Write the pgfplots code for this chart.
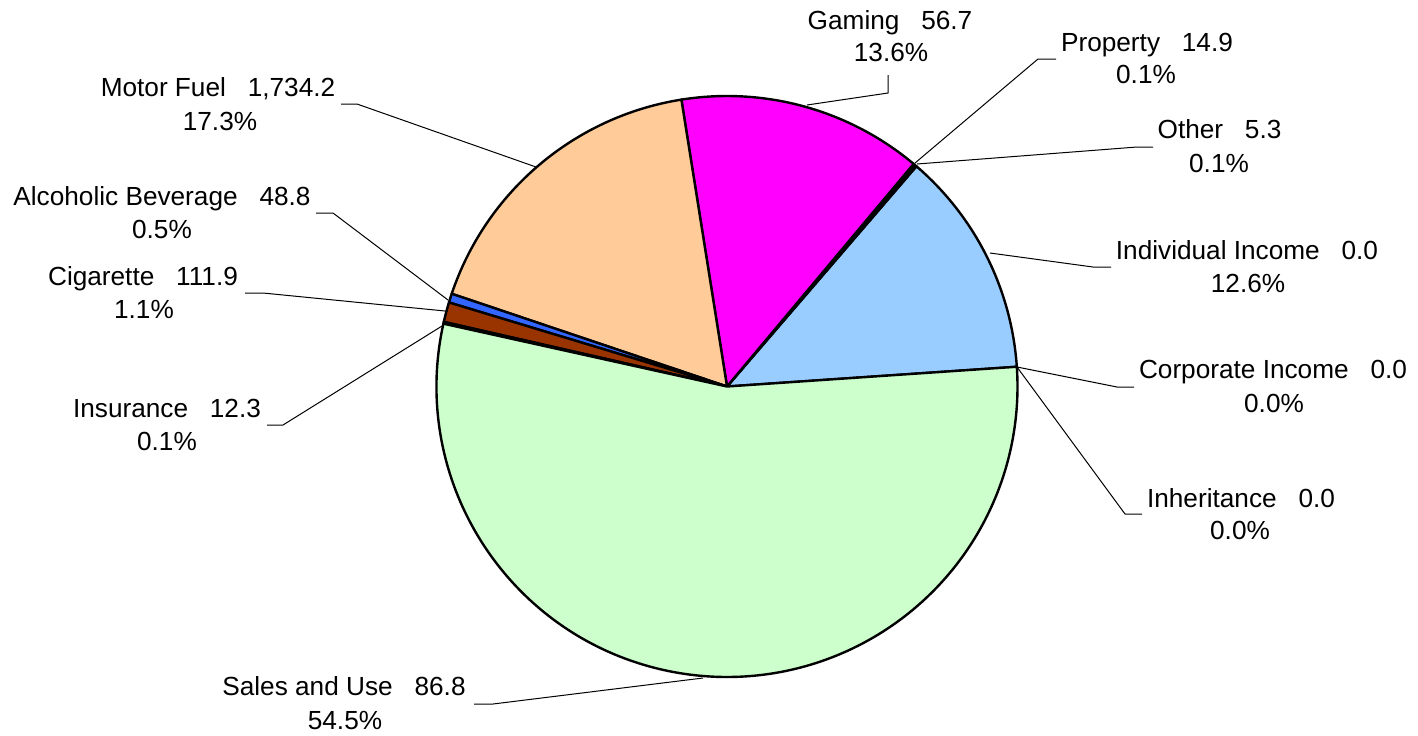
\documentclass[border=0pt]{standalone}
\usepackage{pgfplots}
\pgfplotsset{compat=1.18}
\usepackage{pgfplotstable}
\usepackage{fontspec}
\setmainfont{Liberation Sans}
\usepackage{etoolbox}

\definecolor{cSales}{HTML}{CCFFCC}
\definecolor{cIndiv}{HTML}{99CCFF}
\definecolor{cCorp}{HTML}{FFFFCC}
\definecolor{cInher}{HTML}{CCFFFF}
\definecolor{cOther}{HTML}{CCCCFF}
\definecolor{cProp}{HTML}{9999FF}
\definecolor{cGaming}{HTML}{FF00FF}
\definecolor{cMotor}{HTML}{FFCC99}
\definecolor{cAlc}{HTML}{3366FF}
\definecolor{cCig}{HTML}{993300}
\definecolor{cIns}{HTML}{FF0000}

% slices counter-clockwise from the right edge
\pgfplotstableread{
pct  col
0.0  cInher
0.0  cCorp
12.6 cIndiv
0.1  cOther
0.1  cProp
13.6 cGaming
17.3 cMotor
0.5  cAlc
1.1  cCig
0.1  cIns
54.5 cSales
}\pietable

\newcommand\lab{\fontsize{13.1pt}{16pt}\selectfont}

\def\cx{727}\def\cy{386.5}\def\R{145.25pt}
\def\cur{3.9}
\def\piecmds{}
\pgfmathsetmacro\total{0}
\pgfplotsforeachungrouped \i in {0,...,10}{%
  \pgfplotstablegetelem{\i}{pct}\of\pietable
  \pgfmathsetmacro\total{\total+\pgfplotsretval}%
}
\pgfmathsetmacro\fac{360/\total}
\pgfplotsforeachungrouped \i in {0,...,10}{%
  \pgfplotstablegetelem{\i}{pct}\of\pietable
  \pgfmathsetmacro\nxt{\cur+\fac*\pgfplotsretval}%
  \pgfplotstablegetelem{\i}{col}\of\pietable
  \edef\thecol{\pgfplotsretval}%
  \xappto\piecmds{\noexpand\filldraw[fill=\thecol,draw=black,line width=1.2pt,line join=round] (axis cs:\cx,\cy) -- ++(\cur:\R) arc[start angle=\cur,end angle=\nxt,radius=\R] -- cycle;}%
  \let\cur\nxt
}

\begin{document}%
\begin{tikzpicture}
\begin{axis}[hide axis, x=0.5pt, y=0.5pt, xmin=0, xmax=1418, ymin=0, ymax=735,
  y dir=reverse, clip=false]
\piecmds
% leader lines
\addplot[black, line width=0.5pt, no markers] coordinates {(807,105) (888,93) (888,75)};
\addplot[black, line width=0.5pt, no markers] coordinates {(915,163) (1038,59) (1056,59)};
\addplot[black, line width=0.5pt, no markers] coordinates {(917,164) (1137,147) (1153,147)};
\addplot[black, line width=0.5pt, no markers] coordinates {(990,253) (1093,267) (1111,267)};
\addplot[black, line width=0.5pt, no markers] coordinates {(1017,367) (1117,387) (1134,387)};
\addplot[black, line width=0.5pt, no markers] coordinates {(1017,367) (1125,514) (1142,514)};
\addplot[black, line width=0.5pt, no markers] coordinates {(703,678) (493,704) (474,704)};
\addplot[black, line width=0.5pt, no markers] coordinates {(442,326) (283,425) (267,425)};
\addplot[black, line width=0.5pt, no markers] coordinates {(445,311) (263,293) (245,293)};
\addplot[black, line width=0.5pt, no markers] coordinates {(448,300) (333,213) (316,213)};
\addplot[black, line width=0.5pt, no markers] coordinates {(536,167) (357,104) (341,104)};
% labels
\node[anchor=base, font=\lab] at (axis cs:890,29.3) {Gaming~~~56.7};
\node[anchor=base, font=\lab] at (axis cs:891,61.7) {13.6\%};
\node[anchor=base, font=\lab] at (axis cs:1147,51.7) {Property~~~14.9};
\node[anchor=base, font=\lab] at (axis cs:1146,83.3) {0.1\%};
\node[anchor=base, font=\lab] at (axis cs:1219.5,138) {Other~~~5.3};
\node[anchor=base, font=\lab] at (axis cs:1219,172) {0.1\%};
\node[anchor=base, font=\lab] at (axis cs:1247,259) {Individual Income~~~0.0};
\node[anchor=base, font=\lab] at (axis cs:1248,292) {12.6\%};
\node[anchor=base, font=\lab] at (axis cs:1273,378) {Corporate Income~~~0.0};
\node[anchor=base, font=\lab] at (axis cs:1274,412) {0.0\%};
\node[anchor=base, font=\lab] at (axis cs:1241,507) {Inheritance~~~0.0};
\node[anchor=base, font=\lab] at (axis cs:1240,539) {0.0\%};
\node[anchor=base, font=\lab] at (axis cs:344,695) {Sales and Use~~~86.8};
\node[anchor=base, font=\lab] at (axis cs:345,729) {54.5\%};
\node[anchor=base, font=\lab] at (axis cs:167,417) {Insurance~~~12.3};
\node[anchor=base, font=\lab] at (axis cs:167,450) {0.1\%};
\node[anchor=base, font=\lab] at (axis cs:143,285) {Cigarette~~~111.9};
\node[anchor=base, font=\lab] at (axis cs:144,318) {1.1\%};
\node[anchor=base, font=\lab] at (axis cs:162,205) {Alcoholic Beverage~~~48.8};
\node[anchor=base, font=\lab] at (axis cs:162,238) {0.5\%};
\node[anchor=base, font=\lab] at (axis cs:218,96.7) {Motor Fuel~~~1,734.2};
\node[anchor=base, font=\lab] at (axis cs:220,130) {17.3\%};
\end{axis}
\pgfresetboundingbox
\path (current axis.south west) rectangle (current axis.north east);
\end{tikzpicture}%
\end{document}
